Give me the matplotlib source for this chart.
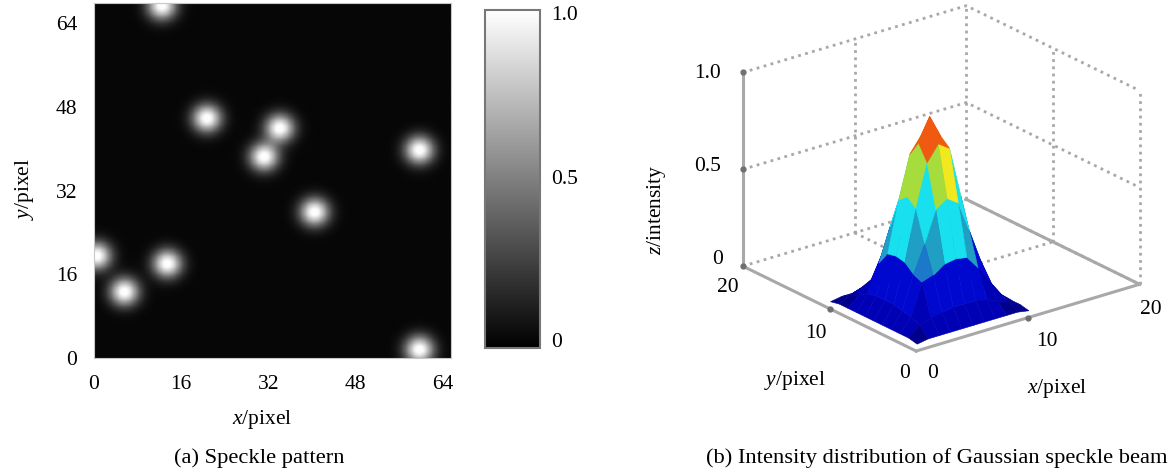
import numpy as np
import matplotlib
matplotlib.use('Agg')
import matplotlib.pyplot as plt
from matplotlib.colors import ListedColormap, BoundaryNorm

plt.rcParams['font.family'] = ['Liberation Serif', 'DejaVu Serif']
plt.rcParams['mathtext.fontset'] = 'custom'
plt.rcParams['mathtext.it'] = 'Liberation Serif:italic'
plt.rcParams['mathtext.rm'] = 'Liberation Serif'

# speckle centres, in pixel units
spot_x = [12.4, 20.7, 34.1, 31.2, 59.8, 40.5, 0.4, 13.4, 5.5, 59.8]
spot_y = [67.5, 45.9, 44.0, 38.5, 39.8, 27.9, 19.5, 18.0, 12.6, 1.5]
spot_w = 1.85
ticks_a = [0, 16, 32, 48, 64]
cbar_ticks = [0, 0.5, 1.0]
cbar_labels = ['0', '0.5', '1.0']

# beam intensity on the 11 x 11 mesh of panel (b)
beam_z = [
    [0.02, 0.03, 0.03, 0.03, 0.03, 0.03, 0.03, 0.03, 0.03, 0.03, 0.02],
    [0.03, 0.08, 0.10, 0.11, 0.12, 0.12, 0.12, 0.11, 0.08, 0.06, 0.03],
    [0.03, 0.10, 0.26, 0.28, 0.32, 0.33, 0.32, 0.25, 0.16, 0.08, 0.03],
    [0.03, 0.11, 0.28, 0.42, 0.58, 0.62, 0.58, 0.42, 0.25, 0.11, 0.03],
    [0.03, 0.12, 0.32, 0.58, 0.80, 0.88, 0.84, 0.58, 0.32, 0.12, 0.03],
    [0.03, 0.12, 0.33, 0.62, 0.88, 1.00, 0.88, 0.62, 0.33, 0.12, 0.03],
    [0.03, 0.12, 0.32, 0.58, 0.80, 0.88, 0.80, 0.58, 0.32, 0.12, 0.03],
    [0.03, 0.11, 0.25, 0.42, 0.58, 0.62, 0.58, 0.42, 0.25, 0.11, 0.03],
    [0.03, 0.08, 0.13, 0.25, 0.32, 0.33, 0.32, 0.25, 0.14, 0.08, 0.03],
    [0.03, 0.06, 0.08, 0.11, 0.12, 0.12, 0.12, 0.11, 0.08, 0.06, 0.03],
    [0.02, 0.03, 0.03, 0.03, 0.03, 0.03, 0.03, 0.03, 0.03, 0.03, 0.02],
]
beam_levels = [0, 0.06, 0.16, 0.29, 0.36, 0.44, 0.62, 0.725, 0.80, 1.0]
beam_colors = ['#00008c', '#0000b4', '#0008d0', '#1c78c8', '#1f9fc4', '#18e0ee', '#a6dc3c', '#f2e81e', '#f05a10']

W, H = 1174, 475
GRAY = '#a8a8a8'
FS = 15.5
fig = plt.figure(figsize=(W / 100, H / 100), dpi=100)


def px(x, y):
    return x / W, 1 - y / H


# panel (a)
ax = fig.add_axes([94 / W, 1 - 358 / H, 357 / W, 355 / H])
xlim, ylim = 65.5, 67.9
gx, gy = np.meshgrid(np.linspace(0, xlim, 300), np.linspace(0, ylim, 300))
field = np.zeros_like(gx)
for sx, sy in zip(spot_x, spot_y):
    field += 1.05 * np.exp(-((gx - sx) ** 2 + (gy - sy) ** 2) / (2 * spot_w ** 2))
im = ax.imshow(np.clip(field, 0, 1), cmap='gray', origin='lower', vmin=-0.025, vmax=1.01,
               extent=[0, xlim, 0, ylim], aspect='auto')
ax.set_xticks(ticks_a)
ax.set_yticks(ticks_a)
ax.tick_params(axis='x', length=0, labelsize=FS, pad=12)
ax.tick_params(axis='y', length=0, labelsize=FS, pad=12)
for s in ax.spines.values():
    s.set_color('#c8c8c8')
ax.set_xlabel(r'$x$/pixel', fontsize=FS, labelpad=10, x=0.47)
ax.set_ylabel(r'$y$/pixel', fontsize=FS, labelpad=14, y=0.475)

cax = fig.add_axes([485 / W, 1 - 348 / H, 55 / W, 338 / H])
cb = fig.colorbar(im, cax=cax, ticks=cbar_ticks)
cb.ax.set_yticklabels(cbar_labels)
cb.ax.tick_params(length=0, labelsize=FS, pad=8)
cb.outline.set_edgecolor('#777777')
cb.outline.set_linewidth(1.5)

# panel (b)
side = 438
ax3 = fig.add_axes([(935.3 - side / 2) / W, 1 - (184.3 + side / 2) / H, side / W, side / H],
                   projection='3d', computed_zorder=False)
ax3.set_proj_type('ortho')
ax3.view_init(elev=22.5, azim=-128)
ax3.set_box_aspect((284, 282, 210))
ax3.set_xlim(0, 20)
ax3.set_ylim(0, 20)
ax3.set_zlim(0, 1)
ax3.set_axis_off()
ax3.patch.set_alpha(0)

dots = (0, (1, 1.6))
for z in [0, 0.5, 1]:
    ax3.plot([0, 20, 20], [20, 20, 0], [z, z, z], color=GRAY, ls=dots, lw=2, zorder=1)
for x, y in [(10, 20), (20, 20), (20, 10), (20, 0)]:
    ax3.plot([x, x], [y, y], [0, 1], color=GRAY, ls=dots, lw=2, zorder=1)
ax3.plot([10, 10, 20], [20, 10, 10], [0, 0, 0], color=GRAY, ls=dots, lw=2, zorder=1)
ax3.plot([20, 20], [20, 0], [0, 0], color=GRAY, lw=2.2, zorder=2)
ax3.plot([0, 20], [0, 0], [0, 0], color=GRAY, lw=2.2, zorder=2)
ax3.plot([0, 0], [0, 20], [0, 0], color=GRAY, lw=2.2, zorder=2)
ax3.plot([0, 0], [20, 20], [0, 1], color=GRAY, lw=2.2, zorder=2)
# tick blobs on the solid axes
ax3.plot([0, 0, 0, 0, 10], [20, 20, 20, 10, 0], [0, 0.5, 1, 0, 0], color='#707070', ls='none',
         marker='o', ms=3.5, zorder=3)

bx, by = np.meshgrid(np.arange(11) + 0.4, np.arange(11) + 0.4)
surf = ax3.plot_surface(bx, by, np.array(beam_z), rstride=1, cstride=1, shade=False,
                        cmap=ListedColormap(beam_colors), norm=BoundaryNorm(beam_levels, len(beam_colors)),
                        linewidth=0.4, zorder=5)
surf.set_edgecolor('face')

labels_b = ['1.0', '0.5', '0', '20', '10', '0', '0', '10', '20', r'$y$/pixel', r'$x$/pixel']
labels_bx = [708, 708, 718, 728, 816, 905, 933, 1047, 1151, 795, 1057]
labels_by = [73, 167, 260, 287, 334, 373, 373, 342, 310, 380, 388]
for t, x, y in zip(labels_b, labels_bx, labels_by):
    fx, fy = px(x, y)
    fig.text(fx, fy, t, fontsize=FS, ha='center', va='center')
fx, fy = px(657, 210)
fig.text(fx, fy, r'$z$/intensity', fontsize=FS, rotation=90, ha='center', va='center')

fx, fy = px(259, 458)
fig.text(fx, fy, '(a) Speckle pattern', fontsize=16.2, ha='center', va='center')
fx, fy = px(937, 458)
fig.text(fx, fy, '(b) Intensity distribution of Gaussian speckle beam', fontsize=16.2, ha='center', va='center')

fig.savefig('out.png', dpi=100)
